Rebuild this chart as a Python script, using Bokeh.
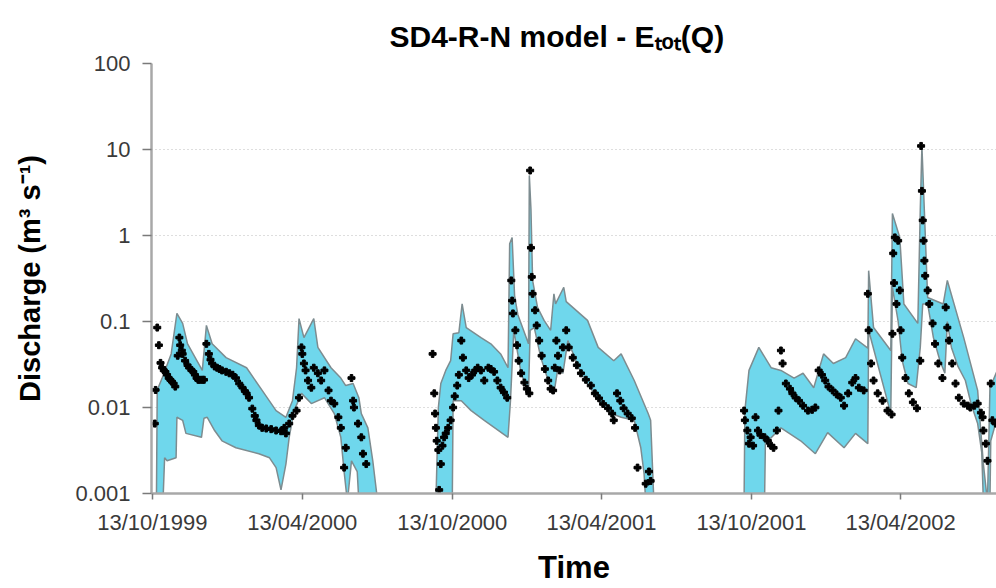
import pandas as pd
from bokeh.plotting import figure
from bokeh.models import (FixedTicker, DatetimeTickFormatter, CustomJSTickFormatter, Range1d)
from bokeh.embed import file_html
from bokeh.resources import INLINE

# ---------------- data (days since 13/10/1999, discharge m3/s) ----------------
START = pd.Timestamp("1999-10-13")

title_text = "SD4-R-N model - Eₜₒₜ(Q)"
x_tick_labels = ["13/10/1999", "13/04/2000", "13/10/2000", "13/04/2001", "13/10/2001", "13/04/2002"]
y_ticks = [0.001, 0.01, 0.1, 1, 10, 100]

# uncertainty band, season 1
up1_days = [5, 6, 12, 23, 30, 37, 43, 61, 66, 73, 90, 115, 134, 151, 163, 171, 176, 179, 185,
            197, 202, 218, 230, 236, 245, 252, 255, 263, 269, 275]
up1_q = [0.0008, 0.016, 0.022, 0.042, 0.124, 0.095, 0.055, 0.027, 0.090, 0.055, 0.038, 0.029,
         0.0158, 0.0092, 0.0077, 0.012, 0.029, 0.108, 0.065, 0.108, 0.050, 0.029, 0.022, 0.018,
         0.019, 0.013, 0.0085, 0.0058, 0.0024, 0.0008]
lo1_days = [5, 13, 15, 18, 29, 30, 37, 41, 60, 63, 67, 76, 85, 102, 130, 143, 151, 157, 163,
            167, 173, 182, 194, 210, 222, 230, 234, 238, 243, 250, 252, 275]
lo1_q = [0.0008, 0.0008, 0.0026, 0.0024, 0.0026, 0.0077, 0.0071, 0.0050, 0.0045, 0.0075, 0.0077,
         0.0054, 0.0041, 0.0034, 0.0029, 0.0026, 0.0020, 0.0011, 0.0022, 0.0045, 0.0092, 0.0146,
         0.0111, 0.013, 0.0085, 0.0045, 0.0018, 0.0008, 0.0024, 0.0018, 0.0008, 0.0008]

# uncertainty band, season 2
up2_days = [346, 349, 352, 358, 364, 367, 374, 378, 383, 401, 413, 425, 434, 436, 439, 442, 446,
            459, 460, 462, 464, 470, 478, 486, 490, 492, 502, 505, 531, 544, 563, 572, 588, 605,
            608, 612]
up2_q = [0.0008, 0.010, 0.019, 0.027, 0.035, 0.072, 0.074, 0.16, 0.085, 0.065, 0.055, 0.042,
         0.029, 0.80, 0.95, 0.20, 0.12, 0.055, 5.0, 2.0, 0.30, 0.146, 0.103, 0.079, 0.21, 0.16,
         0.25, 0.17, 0.103, 0.050, 0.035, 0.042, 0.0206, 0.0085, 0.0071, 0.0008]
lo2_days = [346, 366, 367, 377, 389, 405, 434, 437, 441, 450, 459, 461, 466, 474, 483, 490, 495,
            501, 507, 523, 539, 547, 560, 572, 588, 596, 600, 602, 612]
lo2_q = [0.0008, 0.0008, 0.012, 0.012, 0.0092, 0.0071, 0.0045, 0.012, 0.079, 0.025, 0.0146,
         0.079, 0.085, 0.038, 0.0206, 0.0146, 0.029, 0.025, 0.060, 0.025, 0.0146, 0.0111, 0.0085,
         0.0077, 0.0071, 0.0034, 0.0017, 0.0008, 0.0008]

# uncertainty band, season 3
up3_days = [722, 723, 728, 740, 755, 767, 783, 794, 807, 819, 831, 846, 858, 873, 874, 880, 901,
            903, 912, 917, 934, 937, 939, 946, 965, 970, 990, 1007, 1014, 1019, 1022, 1031]
up3_q = [0.0008, 0.0092, 0.027, 0.050, 0.029, 0.027, 0.022, 0.025, 0.017, 0.042, 0.0325, 0.038,
         0.063, 0.049, 0.39, 0.085, 0.046, 1.8, 0.95, 0.16, 0.095, 2.0, 11.0, 0.19, 0.16, 0.30,
         0.065, 0.0158, 0.0022, 0.0008, 0.017, 0.027]
lo3_days = [722, 747, 748, 767, 791, 809, 824, 844, 858, 873, 874, 901, 903, 910, 915, 922, 932,
            937, 940, 946, 953, 961, 967, 970, 975, 983, 992, 999, 1007, 1012, 1014, 1022, 1023,
            1031]
lo3_q = [0.0008, 0.0008, 0.0038, 0.0058, 0.0041, 0.0029, 0.0051, 0.0034, 0.0050, 0.0038, 0.079,
         0.0085, 0.25, 0.10, 0.035, 0.019, 0.017, 0.05, 0.16, 0.16, 0.065, 0.035, 0.025, 0.10,
         0.05, 0.030, 0.0206, 0.011, 0.0065, 0.0030, 0.0008, 0.0008, 0.0041, 0.0077]

# observed discharge
obs1_days = [3, 4, 6, 8, 10, 12, 14, 16, 18, 20, 22, 24, 26, 28, 31, 33, 34, 36, 37, 40, 43, 45,
             48, 50, 52, 54, 56, 58, 61, 63, 66, 69, 71, 73, 76, 79, 82, 85, 90, 94, 98, 102, 106,
             110, 113, 115, 118, 122, 125, 127, 130, 134, 139, 145, 151, 157, 161, 163, 167, 171,
             176, 179, 182, 183, 185, 187, 190, 194, 197, 202, 206, 210, 215, 218, 222, 227, 230,
             234, 236, 243, 245, 246, 251, 255, 257, 261]
obs1_q = [0.0065, 0.016, 0.085, 0.053, 0.033, 0.029, 0.027, 0.026, 0.024, 0.022, 0.021, 0.020,
          0.019, 0.0175, 0.040, 0.065, 0.053, 0.046, 0.042, 0.035, 0.031, 0.029, 0.027, 0.026,
          0.024, 0.022, 0.021, 0.021, 0.021, 0.021, 0.055, 0.042, 0.036, 0.0325, 0.030, 0.029,
          0.028, 0.027, 0.026, 0.025, 0.024, 0.022, 0.019, 0.017, 0.0155, 0.0146, 0.013, 0.0097,
          0.0080, 0.0071, 0.0062, 0.0058, 0.0057, 0.0056, 0.0054, 0.0053, 0.0058, 0.0050, 0.0065,
          0.0080, 0.0092, 0.013, 0.050, 0.042, 0.0325, 0.027, 0.0206, 0.017, 0.029, 0.025, 0.0206,
          0.027, 0.0158, 0.012, 0.0111, 0.0077, 0.0058, 0.0020, 0.0034, 0.022, 0.012, 0.010,
          0.0065, 0.0045, 0.0029, 0.0022]
obs2_days = [342, 344, 345, 346, 347, 349, 350, 352, 354, 356, 358, 361, 364, 367, 369, 372, 374,
             377, 379, 383, 386, 390, 394, 397, 401, 405, 410, 413, 417, 421, 425, 429, 433, 438,
             439, 440, 443, 445, 447, 450, 454, 457, 460, 461, 462, 463, 464, 467, 469, 472, 475,
             479, 483, 486, 489, 491, 493, 495, 497, 501, 505, 508, 513, 518, 523, 529, 535, 540,
             545, 550, 556, 561, 563, 567, 571, 575, 580, 585, 589, 592, 602, 606, 608]
obs2_q = [0.042, 0.0146, 0.0085, 0.0058, 0.0041, 0.0032, 0.0011, 0.0022, 0.0036, 0.0045, 0.0050,
          0.0058, 0.0071, 0.010, 0.0135, 0.018, 0.024, 0.060, 0.038, 0.027, 0.022, 0.024, 0.027,
          0.029, 0.027, 0.0206, 0.029, 0.028, 0.026, 0.0206, 0.017, 0.015, 0.013, 0.30, 0.175,
          0.124, 0.079, 0.053, 0.035, 0.025, 0.0195, 0.0165, 0.0146, 5.7, 0.72, 0.33, 0.21, 0.135,
          0.090, 0.060, 0.040, 0.028, 0.0206, 0.0165, 0.0158, 0.029, 0.060, 0.040, 0.027, 0.050,
          0.079, 0.050, 0.038, 0.031, 0.025, 0.021, 0.018, 0.0146, 0.0128, 0.011, 0.0098, 0.0085,
          0.0071, 0.0146, 0.012, 0.0098, 0.0085, 0.0075, 0.0058, 0.0020, 0.0013, 0.0018, 0.0014]
obs3_days = [722, 723, 726, 728, 730, 733, 736, 739, 742, 747, 751, 755, 758, 762, 764, 767, 769,
             773, 778, 781, 785, 789, 794, 800, 805, 809, 813, 817, 821, 825, 830, 835, 840, 844,
             849, 854, 858, 862, 868, 873, 874, 877, 880, 885, 891, 897, 902, 903, 904, 905, 906,
             908, 910, 912, 913, 915, 919, 923, 928, 933, 937, 938, 939, 940, 941, 942, 943, 946,
             948, 952, 955, 959, 964, 968, 970, 972, 976, 980, 984, 990, 995, 998, 1003, 1007,
             1011, 1013, 1014, 1017, 1019, 1023, 1025, 1029]
obs3_q = [0.0092, 0.0071, 0.0054, 0.0038, 0.0045, 0.0036, 0.0077, 0.0054, 0.0048, 0.0045, 0.0041,
          0.0036, 0.0034, 0.0054, 0.0092, 0.046, 0.0325, 0.019, 0.0165, 0.0146, 0.013, 0.012,
          0.0105, 0.0092, 0.0094, 0.010, 0.027, 0.024, 0.0206, 0.0175, 0.0158, 0.0142, 0.013,
          0.0105, 0.0146, 0.0195, 0.022, 0.017, 0.0158, 0.21, 0.079, 0.0325, 0.0206, 0.0146,
          0.012, 0.0092, 0.0083, 0.072, 0.62, 0.28, 0.95, 0.16, 0.87, 0.23, 0.079, 0.038, 0.022,
          0.0146, 0.0115, 0.0098, 0.035, 11.0, 3.3, 1.5, 0.87, 0.51, 0.34, 0.23, 0.16, 0.095,
          0.055, 0.0325, 0.022, 0.146, 0.085, 0.060, 0.0325, 0.019, 0.013, 0.0111, 0.0105, 0.010,
          0.0105, 0.0111, 0.0087, 0.0077, 0.0054, 0.0038, 0.0024, 0.019, 0.0071, 0.0065]


def to_ms(days):
    return [(START + pd.Timedelta(days=d)).value / 1e6 for d in days]


band_xs, band_ys = [], []
for ud, uq, ld, lq in [(up1_days, up1_q, lo1_days, lo1_q),
                       (up2_days, up2_q, lo2_days, lo2_q),
                       (up3_days, up3_q, lo3_days, lo3_q)]:
    band_xs.append(to_ms(ud) + to_ms(ld)[::-1])
    band_ys.append(list(uq) + list(lq)[::-1])

obs_x = to_ms(obs1_days) + to_ms(obs2_days) + to_ms(obs3_days)
obs_y = obs1_q + obs2_q + obs3_q

# ---------------- figure ----------------
FONT = "Liberation Sans"
x0 = (START - pd.Timedelta(days=1)).value / 1e6
x1 = (START + pd.Timedelta(days=1030)).value / 1e6

p = figure(width=996, height=588, x_axis_type="datetime", y_axis_type="log",
           x_range=Range1d(x0, x1), y_range=Range1d(0.001, 100),
           output_backend="svg", toolbar_location=None,
           min_border_left=151, min_border_right=0, min_border_top=63, min_border_bottom=95)
p.outline_line_color = None
p.background_fill_color = "white"
p.border_fill_color = "white"

p.title.text = title_text
p.title.align = "left"
p.title.offset = 238
p.title.text_font = FONT
p.title.text_font_style = "bold"
p.title.text_font_size = "30px"
p.title.text_color = "black"
p.title.standoff = 21

p.patches(band_xs, band_ys, fill_color="#6fd7ec", line_color="#7d8c90", line_width=1.5)
p.scatter(obs_x, obs_y, marker="plus", size=7, color="black")

# axes
tick_ms = [pd.Timestamp(pd.to_datetime(t, format="%d/%m/%Y")).value / 1e6 for t in x_tick_labels]
p.xaxis.ticker = FixedTicker(ticks=tick_ms)
fmt = "%d/%m/%Y"
p.xaxis.formatter = DatetimeTickFormatter(microseconds=fmt, milliseconds=fmt, seconds=fmt,
                                          minsec=fmt, minutes=fmt, hourmin=fmt, hours=fmt,
                                          days=fmt, months=fmt, years=fmt)
p.yaxis.ticker = FixedTicker(ticks=y_ticks)
p.yaxis.formatter = CustomJSTickFormatter(code="return tick >= 1 ? tick.toFixed(0) : tick.toPrecision(1);")

for ax in (p.xaxis[0], p.yaxis[0]):
    ax.axis_line_color = "#a8a8a8"
    ax.axis_line_width = 2.5
    ax.major_tick_line_color = "#7a7a7a"
    ax.major_tick_line_width = 1.5
    ax.major_tick_in = 0
    ax.minor_tick_line_color = None
    ax.major_label_text_font = FONT
    ax.major_label_text_font_size = "22px"
    ax.major_label_text_color = "#3a3a3a"
    ax.axis_label_text_font = FONT
    ax.axis_label_text_font_style = "bold"
    ax.axis_label_text_color = "black"

p.yaxis.major_tick_out = 9
p.yaxis.major_label_standoff = 12
p.yaxis.axis_label = "Discharge (m³ s⁻¹)"
p.yaxis.axis_label_text_font_size = "29px"
p.yaxis.axis_label_standoff = 26

p.xaxis.major_tick_out = 6
p.xaxis.major_label_standoff = 10
p.xaxis.axis_label = "Time"
p.xaxis.axis_label_text_font_size = "31px"
p.xaxis.axis_label_standoff = 12

p.xgrid.visible = False
p.ygrid.ticker = FixedTicker(ticks=y_ticks[1:])
p.ygrid.grid_line_color = "#bdbdbd"
p.ygrid.grid_line_dash = "1 3"
p.ygrid.grid_line_width = 1

open("out.html", "w").write(file_html(p, INLINE))
